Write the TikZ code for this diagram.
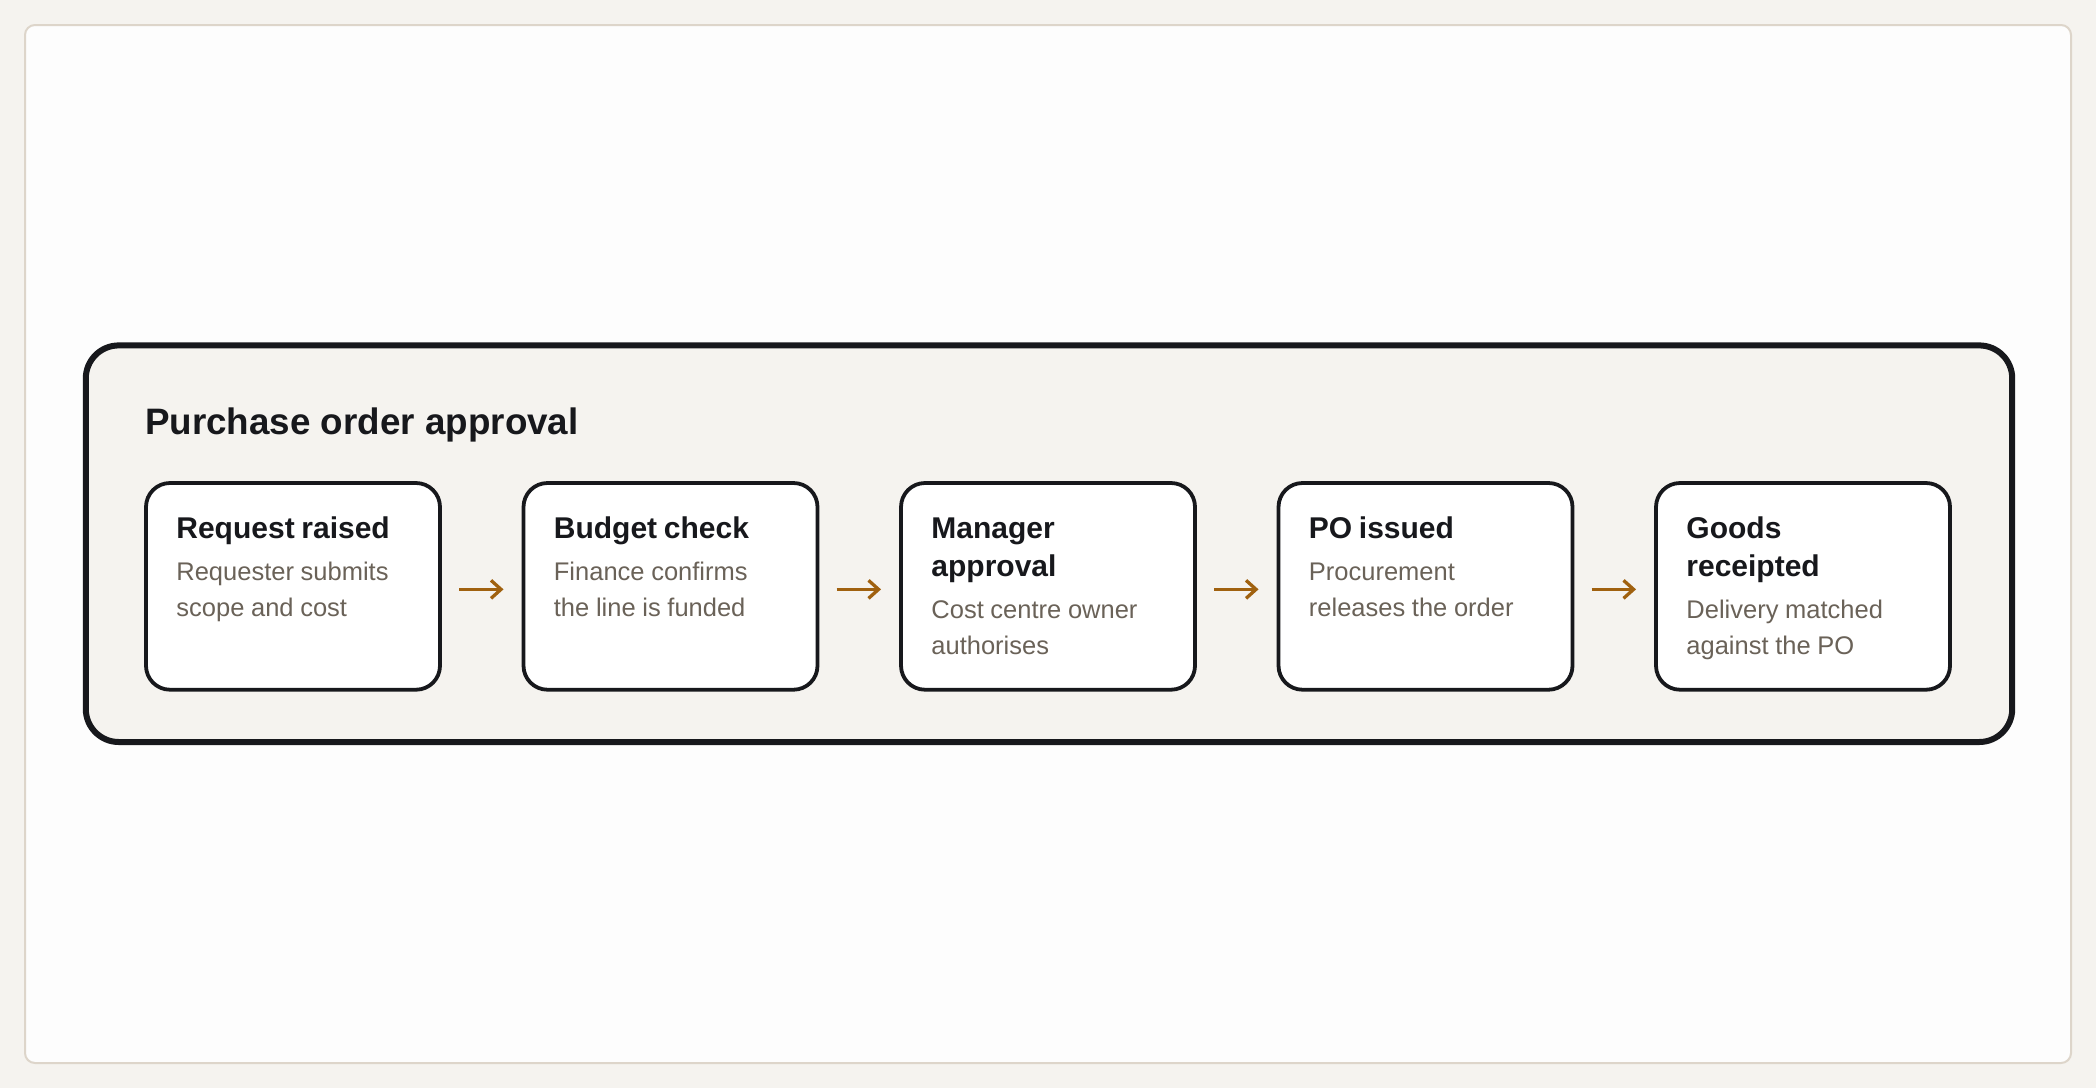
\documentclass[tikz,border=0pt]{standalone}
\usepackage{fontspec}
\setmainfont{Liberation Sans}
\usetikzlibrary{arrows.meta}

\definecolor{pagebg}{HTML}{F5F3EF}
\definecolor{cardfill}{HTML}{FDFDFD}
\definecolor{cardline}{HTML}{DDD5CA}
\definecolor{framefill}{HTML}{F5F3EF}
\definecolor{inkcol}{HTML}{17181C}
\definecolor{desccol}{HTML}{6A6258}
\definecolor{arrowcol}{HTML}{A0610F}

% title and description of one step
\newcommand{\stepText}[2]{%
  \parindent=0pt\parskip=0pt
  {\color{inkcol}\fontsize{15pt}{19pt}\bfseries\rule{0pt}{13pt}#1\par}%
  \vspace{3pt}%
  {\color{desccol}\fontsize{12.75pt}{18pt}\selectfont #2\par}}

\begin{document}
\begin{tikzpicture}[x=0.5pt,y=-0.5pt,>={Straight Barb[length=5pt,width=9pt]},
    frame/.style={draw=inkcol, line width=3pt, fill=framefill, rounded corners=16.5pt,
      minimum width=963.2pt, minimum height=198.3pt, inner sep=0pt, outer sep=0pt},
    stepbox/.style={draw=inkcol, line width=1.9pt, fill=white, rounded corners=12pt,
      minimum width=147pt, minimum height=103.35pt, inner sep=0pt, outer sep=0pt},
    steptext/.style={anchor=north west, inner sep=0pt, text width=130pt, align=left},
    flow/.style={->, draw=arrowcol, line width=1.65pt, shorten <=9.5pt, shorten >=10pt}]
      % Page and card
        \fill[pagebg] (0,0) rectangle (2096,1088);
        \useasboundingbox (0,0) rectangle (2096,1088);
        \draw[cardline, fill=cardfill, line width=1pt, rounded corners=5pt] (25,25) rectangle (2071,1063);

        % Group frame
        \node[frame] (group) at (1049,543.7) {};
        \node[anchor=base west, inner sep=0pt, text=inkcol, font=\fontsize{18.4pt}{22pt}\bfseries]
          (heading) at (144.7,434) {Purchase order approval};

        % Steps
        \node[stepbox] (s1) at (293,586.35) {};
        \node[stepbox] (s2) at (670.5,586.35) {};
        \node[stepbox] (s3) at (1048,586.35) {};
        \node[stepbox] (s4) at (1425.5,586.35) {};
        \node[stepbox] (s5) at (1803,586.35) {};

        \node[steptext] (t1) at (176,512) {\stepText{Request raised}{Requester submits\\scope and cost}};
        \node[steptext] (t2) at (553.5,512) {\stepText{Budget check}{Finance confirms\\the line is funded}};
        \node[steptext] (t3) at (931,512) {\stepText{Manager\\approval}{Cost centre owner\\authorises}};
        \node[steptext] (t4) at (1308.5,512) {\stepText{PO issued}{Procurement\\releases the order}};
        \node[steptext] (t5) at (1686,512) {\stepText{Goods\\receipted}{Delivery matched\\against the PO}};

        % Flow
        \draw [flow] ([yshift=-1.5pt]s1.east) -- ([yshift=-1.5pt]s2.west);
        \draw [flow] ([yshift=-1.5pt]s2.east) -- ([yshift=-1.5pt]s3.west);
        \draw [flow] ([yshift=-1.5pt]s3.east) -- ([yshift=-1.5pt]s4.west);
        \draw [flow] ([yshift=-1.5pt]s4.east) -- ([yshift=-1.5pt]s5.west);

    \end{tikzpicture}
\end{document}
